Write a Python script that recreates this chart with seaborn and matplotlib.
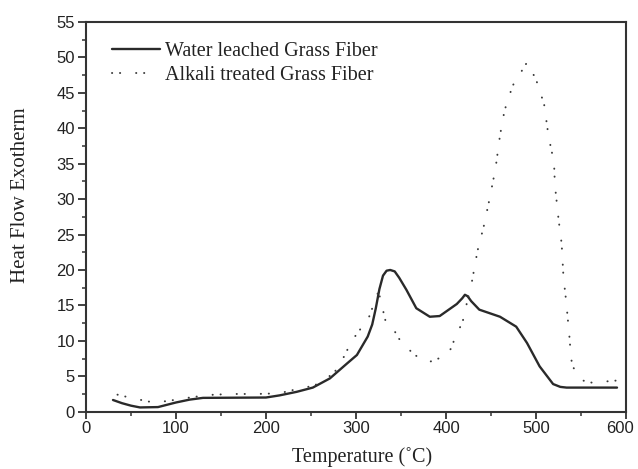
import matplotlib
matplotlib.use("Agg")
import matplotlib.pyplot as plt
from matplotlib.ticker import MultipleLocator
from matplotlib.transforms import ScaledTranslation
import seaborn as sns
import pandas as pd

# Water leached grass fiber DSC trace
water_temp = [30, 40, 50, 60, 80, 100, 115, 130, 200, 215, 234, 252, 271, 290,
              301, 313, 318, 322, 326, 330, 334, 338, 343, 348, 356, 367, 382, 393,
              412, 418, 421, 424, 428, 437, 460, 478, 490, 504, 519, 527, 534, 590]
water_heat = [1.65, 1.2, 0.85, 0.6, 0.65, 1.3, 1.7, 1.95, 2.0, 2.3, 2.8, 3.4, 4.7, 6.8,
              8.0, 10.6, 12.3, 14.6, 17.3, 19.2, 19.9, 20.0, 19.8, 18.9, 17.2, 14.6, 13.4, 13.5,
              15.2, 16.0, 16.5, 16.3, 15.6, 14.4, 13.4, 12.0, 9.7, 6.4, 3.9, 3.5, 3.4, 3.4]

# Alkali treated grass fiber DSC trace
alkali_temp = [35, 50, 67, 75, 90, 110, 135, 160, 190, 215, 228, 254, 264, 274, 281,
               295, 301, 314, 325, 333, 342, 347, 364, 372, 381, 400, 406, 412, 418,
               422, 429, 435, 442, 448, 455, 460, 465, 474, 490, 500, 509, 514, 520,
               521, 525, 528.5, 530.5, 533.5, 537, 539, 541, 552, 562, 590]
alkali_heat = [2.4, 1.95, 1.5, 1.3, 1.5, 1.9, 2.35, 2.5, 2.5, 2.6, 3.0, 3.7, 4.5, 5.3, 6.35,
               9.9, 11.0, 13.2, 17.0, 12.7, 11.6, 10.4, 8.1, 7.5, 7.0, 7.9, 9.0, 11.2, 12.4,
               14.7, 18.5, 22.7, 26.2, 29.8, 34.3, 39.0, 42.5, 46.0, 49.3, 46.9, 43.4, 38.8, 35.2,
               32.0, 27.2, 23.7, 19.0, 15.6, 10.8, 7.5, 6.3, 4.4, 4.1, 4.4]

series_names = ["Water leached Grass Fiber", "Alkali treated Grass Fiber"]
x_ticks = [0, 100, 200, 300, 400, 500, 600]
y_ticks = [0, 5, 10, 15, 20, 25, 30, 35, 40, 45, 50, 55]

water_df = pd.DataFrame({"Temperature": water_temp, "Heat": water_heat})
alkali_df = pd.DataFrame({"Temperature": alkali_temp, "Heat": alkali_heat})

sns.set_style("ticks")
plt.rcParams["font.family"] = ["Liberation Serif", "DejaVu Serif"]

fig = plt.figure(figsize=(6.38, 4.69), dpi=100)
ax = fig.add_axes([0.1348, 0.1222, 0.8464, 0.8309])

sns.lineplot(data=water_df, x="Temperature", y="Heat", ax=ax, color="#2a2a2a",
             linewidth=1.7, label=series_names[0], estimator=None, sort=False)
sns.lineplot(data=alkali_df, x="Temperature", y="Heat", ax=ax, color="#3a3a3a",
             linewidth=1.4, label=series_names[1], estimator=None, sort=False)
dotted = ax.get_lines()[1]
dotted.set_linestyle((0, (0.1, 4.0, 0.1, 8.2)))
dotted.set_dash_capstyle("round")

ax.set_xlim(0, 600)
ax.set_ylim(0, 55)
ax.set_xticks(x_ticks)
ax.set_yticks(y_ticks)
ax.xaxis.set_minor_locator(MultipleLocator(50))
ax.yaxis.set_minor_locator(MultipleLocator(2.5))

ax.tick_params(which="major", direction="out", length=5, width=1.3, color="#333333", pad=2)
ax.tick_params(which="minor", direction="out", length=3, width=1.1, color="#333333")
ax.tick_params(axis="y", which="major", length=6)

tick_font = {"family": ["Liberation Sans", "DejaVu Sans"], "size": 12}
ax.set_xticklabels([str(v) for v in x_ticks], fontdict=tick_font, color="#222222")
ax.set_yticklabels([str(v) for v in y_ticks], fontdict=tick_font, color="#222222")

# keep the last x tick label inside the figure edge
last_label = ax.get_xticklabels()[-1]
last_label.set_transform(last_label.get_transform()
                         + ScaledTranslation(-4 / 72, 0, fig.dpi_scale_trans))

for side in ["top", "right", "left", "bottom"]:
    ax.spines[side].set_visible(True)
    ax.spines[side].set_linewidth(1.5)
    ax.spines[side].set_color("#333333")

ax.set_xlabel("Temperature (\u02daC)", fontsize=14.5, color="#222222")
ax.set_ylabel("Heat Flow Exotherm", fontsize=15, color="#222222")
ax.xaxis.set_label_coords(0.511, -0.09)
ax.yaxis.set_label_coords(-0.104, 0.555)

leg = ax.legend(loc="upper left", frameon=False, fontsize=14.5, handlelength=2.4,
                handletextpad=0.25, labelspacing=0.25, borderaxespad=0.5,
                bbox_to_anchor=(0.014, 0.995))
for t in leg.get_texts():
    t.set_color("#222222")

fig.savefig("out.png", dpi=100)
